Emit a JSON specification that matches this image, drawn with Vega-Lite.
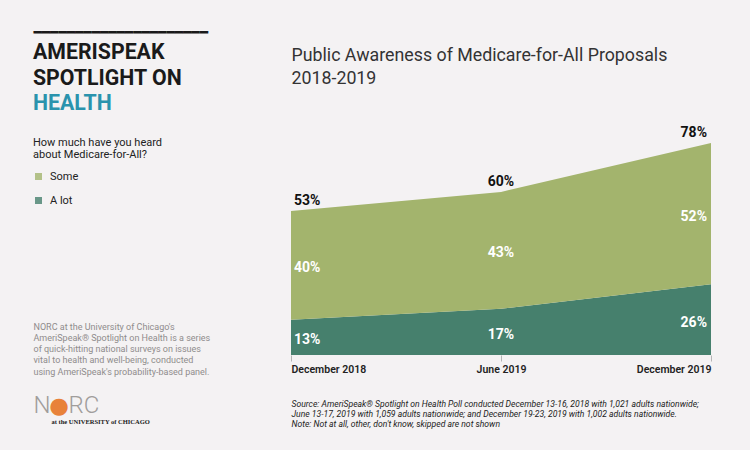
{
  "$schema": "https://vega.github.io/schema/vega-lite/v6.json",
  "autosize": {"type": "none"},
  "width": 420,
  "height": 212,
  "padding": {"left": 291, "top": 143, "right": 39, "bottom": 95},
  "background": "#f4f2f3",
  "title": {
    "text": ["AMERISPEAK", "SPOTLIGHT ON"],
    "subtitle": "HEALTH",
    "anchor": "start",
    "frame": "group",
    "dx": -258,
    "dy": 89,
    "offset": 0,
    "font": "Roboto",
    "fontSize": 21.3,
    "fontWeight": "bold",
    "color": "#1a1a1a",
    "lineHeight": 26,
    "subtitleFont": "Roboto",
    "subtitleFontSize": 21.3,
    "subtitleFontWeight": "bold",
    "subtitleColor": "#2a93ad",
    "subtitlePadding": 3
  },
  "data": {
    "values": [
      {"period": "December 2018", "series": "A lot", "value": 0.13},
      {"period": "December 2018", "series": "Some", "value": 0.40},
      {"period": "June 2019", "series": "A lot", "value": 0.17},
      {"period": "June 2019", "series": "Some", "value": 0.43},
      {"period": "December 2019", "series": "A lot", "value": 0.26},
      {"period": "December 2019", "series": "Some", "value": 0.52}
    ]
  },
  "layer": [
    {
      "mark": {"type": "area", "opacity": 1},
      "encoding": {
        "x": {
          "field": "period",
          "type": "ordinal",
          "sort": ["December 2018", "June 2019", "December 2019"],
          "scale": {"type": "point", "padding": 0},
          "axis": {
            "orient": "bottom",
            "labelAngle": 0,
            "labelFlush": true,
            "labelFont": "Roboto",
            "labelFontSize": 10.5,
            "labelFontWeight": 600,
            "labelColor": "#222222",
            "labelPadding": 3,
            "ticks": true,
            "tickSize": 6,
            "tickColor": "#b5b5b5",
            "domain": false,
            "grid": false,
            "title": [
              "Source: AmeriSpeak® Spotlight on Health Poll conducted December 13-16, 2018 with 1,021 adults nationwide;",
              "June 13-17, 2019 with 1,059 adults nationwide; and December 19-23, 2019 with 1,002 adults nationwide.",
              "Note: Not at all, other, don't know, skipped are not shown"
            ],
            "titleX": 0,
            "titleY": 44,
            "titleAlign": "left",
            "titleBaseline": "top",
            "titleFont": "Roboto",
            "titleFontSize": 8.6,
            "titleFontStyle": "italic",
            "titleFontWeight": "normal",
            "titleColor": "#222222",
            "titleLineHeight": 10
          }
        },
        "y": {
          "field": "value",
          "type": "quantitative",
          "stack": "zero",
          "scale": {"domain": [0, 0.78], "nice": false},
          "axis": {
            "orient": "left",
            "domain": false,
            "ticks": false,
            "labels": false,
            "grid": false,
            "title": [
              "NORC at the University of Chicago's",
              "AmeriSpeak® Spotlight on Health is a series",
              "of quick-hitting national surveys on issues",
              "vital to health and well-being, conducted",
              "using AmeriSpeak's probability-based panel."
            ],
            "titleAngle": 0,
            "titleX": -258,
            "titleY": 179,
            "titleAlign": "left",
            "titleBaseline": "top",
            "titleFont": "Roboto",
            "titleFontSize": 9,
            "titleFontWeight": "normal",
            "titleColor": "#8f8c8c",
            "titleLineHeight": 11.3
          }
        },
        "color": {
          "field": "series",
          "type": "nominal",
          "scale": {"domain": ["Some", "A lot"], "range": ["#a3b46d", "#46806d"]},
          "legend": {
            "orient": "none",
            "legendX": -258,
            "legendY": -6,
            "title": ["How much have you heard", "about Medicare-for-All?"],
            "titleFont": "Roboto",
            "titleFontSize": 11,
            "titleFontWeight": "normal",
            "titleColor": "#222222",
            "titleLineHeight": 12,
            "titlePadding": 11,
            "labelFont": "Roboto",
            "labelFontSize": 11,
            "labelColor": "#222222",
            "labelOffset": 6,
            "symbolType": "square",
            "symbolSize": 49,
            "symbolStrokeWidth": 0,
            "symbolOpacity": 0.8,
            "rowPadding": 12,
            "padding": 0
          }
        },
        "order": {"field": "series", "sort": "ascending"}
      }
    },
    {
      "transform": [
        {"stack": "value", "groupby": ["period"], "sort": [{"field": "series", "order": "ascending"}], "as": ["y0", "y1"]},
        {"calculate": "(datum.y0 + datum.y1) / 2", "as": "mid"},
        {"filter": "datum.series == 'A lot'"}
      ],
      "mark": {
        "type": "text",
        "font": "Roboto",
        "fontSize": 14,
        "fontWeight": "bold",
        "color": "#ffffff",
        "baseline": "middle",
        "dy": 3,
        "align": {"expr": "datum.period == 'December 2018' ? 'left' : datum.period == 'December 2019' ? 'right' : 'center'"},
        "dx": {"expr": "datum.period == 'December 2018' ? 3 : datum.period == 'December 2019' ? -4 : 0"}
      },
      "encoding": {
        "x": {
          "field": "period",
          "type": "ordinal",
          "sort": ["December 2018", "June 2019", "December 2019"],
          "scale": {"type": "point", "padding": 0},
          "axis": {
            "orient": "top",
            "labels": false,
            "ticks": false,
            "domain": false,
            "grid": false,
            "title": ["Public Awareness of Medicare-for-All Proposals", "2018-2019"],
            "titleX": 0,
            "titleY": -97,
            "titleAlign": "left",
            "titleBaseline": "top",
            "titleFont": "Roboto",
            "titleFontSize": 17.8,
            "titleFontWeight": "normal",
            "titleColor": "#333333",
            "titleLineHeight": 23
          }
        },
        "y": {
          "field": "mid",
          "type": "quantitative",
          "scale": {"domain": [0, 0.78], "nice": false},
          "axis": {
            "orient": "left",
            "domain": false,
            "ticks": false,
            "labels": false,
            "grid": false,
            "title": "N",
            "titleAngle": 0,
            "titleX": -258,
            "titleY": 262,
            "titleAlign": "left",
            "titleBaseline": "middle",
            "titleFont": "Roboto",
            "titleFontSize": 24,
            "titleFontWeight": 300,
            "titleColor": "#a09d9b"
          }
        },
        "text": {"field": "value", "format": ".0%"}
      }
    },
    {
      "transform": [
        {"stack": "value", "groupby": ["period"], "sort": [{"field": "series", "order": "ascending"}], "as": ["y0", "y1"]},
        {"calculate": "(datum.y0 + datum.y1) / 2", "as": "mid"},
        {"filter": "datum.series == 'Some'"}
      ],
      "mark": {
        "type": "text",
        "font": "Roboto",
        "fontSize": 14,
        "fontWeight": "bold",
        "color": "#ffffff",
        "baseline": "middle",
        "dy": 3,
        "align": {"expr": "datum.period == 'December 2018' ? 'left' : datum.period == 'December 2019' ? 'right' : 'center'"},
        "dx": {"expr": "datum.period == 'December 2018' ? 3 : datum.period == 'December 2019' ? -4 : 0"}
      },
      "encoding": {
        "x": {
          "field": "period",
          "type": "ordinal",
          "sort": ["December 2018", "June 2019", "December 2019"],
          "scale": {"type": "point", "padding": 0},
          "axis": {
            "orient": "top",
            "labels": false,
            "ticks": false,
            "domain": false,
            "grid": false,
            "title": "━━━━━━━━━━━━━━━━━━━━━",
            "titleX": -258,
            "titleY": -111,
            "titleAlign": "left",
            "titleBaseline": "middle",
            "titleFont": "DejaVu Sans Mono",
            "titleFontSize": 13.8,
            "titleFontWeight": "normal",
            "titleColor": "#1a1a1a"
          }
        },
        "y": {
          "field": "mid",
          "type": "quantitative",
          "scale": {"domain": [0, 0.78], "nice": false},
          "axis": {
            "orient": "left",
            "domain": false,
            "ticks": false,
            "labels": false,
            "grid": false,
            "title": "at the UNIVERSITY of CHICAGO",
            "titleAngle": 0,
            "titleX": -240,
            "titleY": 278,
            "titleAlign": "left",
            "titleBaseline": "middle",
            "titleFont": "Liberation Serif",
            "titleFontSize": 6.5,
            "titleFontWeight": "bold",
            "titleColor": "#1a1a1a"
          }
        },
        "text": {"field": "value", "format": ".0%"}
      }
    },
    {
      "transform": [
        {"aggregate": [{"op": "sum", "field": "value", "as": "total"}], "groupby": ["period"]}
      ],
      "mark": {
        "type": "text",
        "font": "Roboto",
        "fontSize": 14,
        "fontWeight": "bold",
        "color": "#111111",
        "baseline": "middle",
        "dy": -10,
        "align": {"expr": "datum.period == 'December 2018' ? 'left' : datum.period == 'December 2019' ? 'right' : 'center'"},
        "dx": {"expr": "datum.period == 'December 2018' ? 3 : datum.period == 'December 2019' ? -4 : 0"}
      },
      "encoding": {
        "x": {
          "field": "period",
          "type": "ordinal",
          "sort": ["December 2018", "June 2019", "December 2019"],
          "scale": {"type": "point", "padding": 0},
          "axis": {
            "orient": "bottom",
            "labels": false,
            "ticks": false,
            "domain": false,
            "grid": false,
            "title": "RC",
            "titleX": -223,
            "titleY": 50,
            "titleAlign": "left",
            "titleBaseline": "middle",
            "titleFont": "Roboto",
            "titleFontSize": 24,
            "titleFontWeight": 300,
            "titleColor": "#a09d9b"
          }
        },
        "y": {
          "field": "total",
          "type": "quantitative",
          "scale": {"domain": [0, 0.78], "nice": false},
          "axis": {
            "orient": "left",
            "domain": false,
            "ticks": false,
            "labels": false,
            "grid": false,
            "title": "●",
            "titleAngle": 0,
            "titleX": -232.5,
            "titleY": 262,
            "titleAlign": "center",
            "titleBaseline": "middle",
            "titleFont": "DejaVu Sans",
            "titleFontSize": 22.5,
            "titleFontWeight": "normal",
            "titleColor": "#e8823a"
          }
        },
        "text": {"field": "total", "format": ".0%"}
      }
    }
  ],
  "resolve": {"axis": {"x": "independent", "y": "independent"}},
  "config": {"view": {"stroke": null}, "axis": {"grid": false}}
}
